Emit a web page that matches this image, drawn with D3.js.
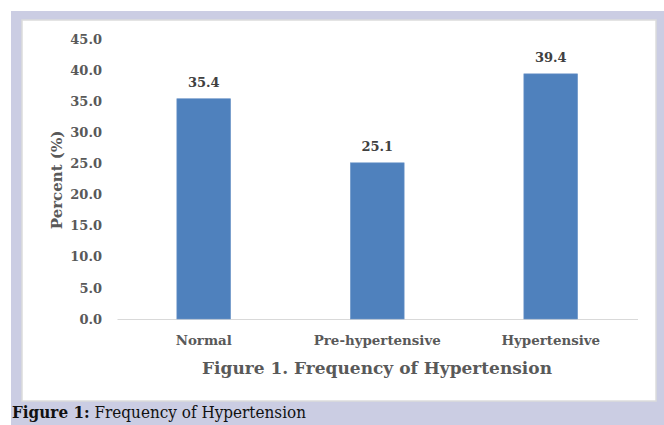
<!DOCTYPE html>
<html><head><meta charset="utf-8">
<script src="https://cdn.jsdelivr.net/npm/d3@7"></script>
<style>body{margin:0;background:#fff}svg{display:block}</style>
</head><body>
<svg id="c" width="664" height="425"></svg>
<script>
const categories = ["Normal", "Pre-hypertensive", "Hypertensive"];
const values = [35.4, 25.1, 39.4];
const yTicks = [0, 5, 10, 15, 20, 25, 30, 35, 40, 45];
const chartTitle = "Figure 1. Frequency of Hypertension";
const yTitle = "Percent (%)";

const svg = d3.select("#c");
const font = "'DejaVu Serif', 'Liberation Serif', serif";
// outer frame
svg.append("rect").attr("x", 11).attr("y", 11).attr("width", 653).attr("height", 414).attr("fill", "#cbcde3");
svg.append("rect").attr("x", 22).attr("y", 20).attr("width", 634).attr("height", 381)
  .attr("fill", "#fff").attr("stroke", "#dcdcdc").attr("stroke-width", 1.5);

const x = d3.scaleBand().domain(categories).range([117, 637.5]).paddingInner(0.69).paddingOuter(0.345);
const y = d3.scaleLinear().domain([0, 45]).range([319, 39]);

// y axis labels
const ya = svg.append("g").attr("transform", "translate(102,0)")
  .call(d3.axisLeft(y).tickValues(yTicks).tickFormat(d3.format(".1f")).tickSize(0).tickPadding(0));
ya.select(".domain").remove();
ya.selectAll("text").attr("font-family", font).attr("font-weight", "bold").attr("font-size", 13).attr("fill", "#595959");

// x axis
const xa = svg.append("g").attr("transform", "translate(0,319)")
  .call(d3.axisBottom(x).tickSize(0).tickPadding(16));
xa.select(".domain").attr("stroke", "#d9d9d9").attr("stroke-width", 1.2);
xa.selectAll("text").attr("font-family", font).attr("font-weight", "bold").attr("font-size", 13.4).attr("fill", "#595959");

// bars
svg.append("g").selectAll("rect").data(categories).join("rect")
  .attr("x", d => x(d)).attr("width", x.bandwidth())
  .attr("y", (d, i) => y(values[i])).attr("height", (d, i) => y(0) - y(values[i]))
  .attr("fill", "#4f81bd").attr("stroke", "#6f97c9").attr("stroke-width", 0.6);

// data labels
svg.append("g").selectAll("text").data(categories).join("text")
  .attr("x", d => x(d) + x.bandwidth() / 2).attr("y", (d, i) => y(values[i]) - 12)
  .attr("text-anchor", "middle").attr("font-family", font).attr("font-weight", "bold")
  .attr("font-size", 13).attr("fill", "#404040").text((d, i) => values[i].toFixed(1));

// y title
svg.append("text").attr("transform", "translate(62,180) rotate(-90)")
  .attr("text-anchor", "middle").attr("font-family", font).attr("font-weight", "bold")
  .attr("font-size", 15).attr("fill", "#595959").text(yTitle);

// chart title
svg.append("text").attr("x", 377).attr("y", 374).attr("text-anchor", "middle")
  .attr("font-family", font).attr("font-weight", "bold").attr("font-size", 17).attr("fill", "#595959")
  .attr("textLength", 350).attr("lengthAdjust", "spacingAndGlyphs").text(chartTitle);

// caption
const cap = svg.append("text").attr("x", 12).attr("y", 418).attr("font-family", font)
  .attr("font-size", 16).attr("fill", "#111")
  .attr("textLength", 294).attr("lengthAdjust", "spacingAndGlyphs");
cap.append("tspan").attr("font-weight", "bold").text("Figure 1:");
cap.append("tspan").text(" Frequency of Hypertension");
</script>
</body></html>
